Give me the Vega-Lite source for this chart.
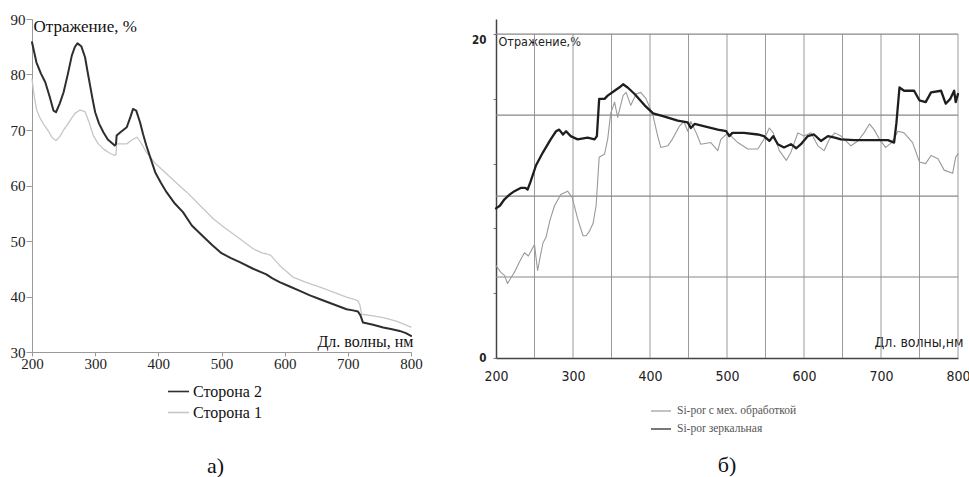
{
  "$schema": "https://vega.github.io/schema/vega-lite/v6.json",
  "background": "white",
  "padding": {"left": 10, "top": 12, "right": 0, "bottom": 0},
  "spacing": 48,
  "resolve": {"scale": {"color": "independent"}, "legend": {"color": "independent"}},
  "config": {"view": {"stroke": null}, "axis": {"grid": false}},
  "datasets": {
    "left": [
      {"w":200,"r":79.2,"s":"Сторона 1"},{"w":203,"r":76.5,"s":"Сторона 1"},{"w":207,"r":73.8,"s":"Сторона 1"},{"w":212,"r":72.3,"s":"Сторона 1"},{"w":218,"r":71.1,"s":"Сторона 1"},{"w":226,"r":69.8,"s":"Сторона 1"},{"w":232,"r":68.6,"s":"Сторона 1"},{"w":238,"r":68.1,"s":"Сторона 1"},{"w":244,"r":68.8,"s":"Сторона 1"},{"w":250,"r":70.0,"s":"Сторона 1"},{"w":255,"r":70.8,"s":"Сторона 1"},{"w":262,"r":72.0,"s":"Сторона 1"},{"w":268,"r":73.0,"s":"Сторона 1"},{"w":276,"r":73.6,"s":"Сторона 1"},{"w":284,"r":73.3,"s":"Сторона 1"},{"w":290,"r":71.5,"s":"Сторона 1"},{"w":297,"r":69.0,"s":"Сторона 1"},{"w":305,"r":67.5,"s":"Сторона 1"},{"w":313,"r":66.6,"s":"Сторона 1"},{"w":322,"r":65.9,"s":"Сторона 1"},{"w":331,"r":65.4,"s":"Сторона 1"},{"w":333,"r":65.6,"s":"Сторона 1"},{"w":334,"r":67.5,"s":"Сторона 1"},{"w":342,"r":67.5,"s":"Сторона 1"},{"w":350,"r":67.5,"s":"Сторона 1"},{"w":358,"r":68.2,"s":"Сторона 1"},{"w":366,"r":68.7,"s":"Сторона 1"},{"w":372,"r":67.8,"s":"Сторона 1"},{"w":381,"r":66.0,"s":"Сторона 1"},{"w":395,"r":64.0,"s":"Сторона 1"},{"w":413,"r":62.1,"s":"Сторона 1"},{"w":430,"r":60.3,"s":"Сторона 1"},{"w":445,"r":58.8,"s":"Сторона 1"},{"w":466,"r":56.4,"s":"Сторона 1"},{"w":487,"r":54.0,"s":"Сторона 1"},{"w":505,"r":52.4,"s":"Сторона 1"},{"w":529,"r":50.4,"s":"Сторона 1"},{"w":550,"r":48.6,"s":"Сторона 1"},{"w":565,"r":47.8,"s":"Сторона 1"},{"w":571,"r":47.7,"s":"Сторона 1"},{"w":578,"r":47.4,"s":"Сторона 1"},{"w":592,"r":45.6,"s":"Сторона 1"},{"w":613,"r":43.5,"s":"Сторона 1"},{"w":635,"r":42.5,"s":"Сторона 1"},{"w":656,"r":41.7,"s":"Сторона 1"},{"w":677,"r":40.8,"s":"Сторона 1"},{"w":698,"r":39.9,"s":"Сторона 1"},{"w":710,"r":39.5,"s":"Сторона 1"},{"w":716,"r":39.2,"s":"Сторона 1"},{"w":719,"r":38.5,"s":"Сторона 1"},{"w":722,"r":36.8,"s":"Сторона 1"},{"w":740,"r":36.5,"s":"Сторона 1"},{"w":756,"r":36.2,"s":"Сторона 1"},{"w":778,"r":35.5,"s":"Сторона 1"},{"w":800,"r":34.5,"s":"Сторона 1"},
      {"w":200,"r":85.8,"s":"Сторона 2"},{"w":207,"r":82.2,"s":"Сторона 2"},{"w":214,"r":80.2,"s":"Сторона 2"},{"w":221,"r":78.6,"s":"Сторона 2"},{"w":228,"r":76.0,"s":"Сторона 2"},{"w":234,"r":73.5,"s":"Сторона 2"},{"w":238,"r":73.2,"s":"Сторона 2"},{"w":244,"r":74.8,"s":"Сторона 2"},{"w":250,"r":76.8,"s":"Сторона 2"},{"w":257,"r":80.2,"s":"Сторона 2"},{"w":263,"r":83.4,"s":"Сторона 2"},{"w":268,"r":85.0,"s":"Сторона 2"},{"w":272,"r":85.6,"s":"Сторона 2"},{"w":278,"r":85.1,"s":"Сторона 2"},{"w":284,"r":83.1,"s":"Сторона 2"},{"w":288,"r":80.5,"s":"Сторона 2"},{"w":292,"r":78.0,"s":"Сторона 2"},{"w":296,"r":75.5,"s":"Сторона 2"},{"w":300,"r":73.2,"s":"Сторона 2"},{"w":306,"r":71.2,"s":"Сторона 2"},{"w":313,"r":69.6,"s":"Сторона 2"},{"w":320,"r":68.3,"s":"Сторона 2"},{"w":331,"r":67.2,"s":"Сторона 2"},{"w":333,"r":67.5,"s":"Сторона 2"},{"w":334,"r":69.0,"s":"Сторона 2"},{"w":340,"r":69.6,"s":"Сторона 2"},{"w":350,"r":70.5,"s":"Сторона 2"},{"w":356,"r":72.4,"s":"Сторона 2"},{"w":360,"r":73.8,"s":"Сторона 2"},{"w":365,"r":73.5,"s":"Сторона 2"},{"w":371,"r":71.4,"s":"Сторона 2"},{"w":376,"r":69.2,"s":"Сторона 2"},{"w":381,"r":67.2,"s":"Сторона 2"},{"w":388,"r":64.8,"s":"Сторона 2"},{"w":395,"r":62.4,"s":"Сторона 2"},{"w":404,"r":60.5,"s":"Сторона 2"},{"w":413,"r":58.8,"s":"Сторона 2"},{"w":425,"r":56.9,"s":"Сторона 2"},{"w":439,"r":55.2,"s":"Сторона 2"},{"w":453,"r":52.8,"s":"Сторона 2"},{"w":471,"r":50.8,"s":"Сторона 2"},{"w":486,"r":49.2,"s":"Сторона 2"},{"w":500,"r":47.8,"s":"Сторона 2"},{"w":515,"r":46.9,"s":"Сторона 2"},{"w":529,"r":46.2,"s":"Сторона 2"},{"w":550,"r":45.0,"s":"Сторона 2"},{"w":571,"r":44.0,"s":"Сторона 2"},{"w":580,"r":43.3,"s":"Сторона 2"},{"w":592,"r":42.6,"s":"Сторона 2"},{"w":608,"r":41.8,"s":"Сторона 2"},{"w":624,"r":41.0,"s":"Сторона 2"},{"w":640,"r":40.2,"s":"Сторона 2"},{"w":656,"r":39.5,"s":"Сторона 2"},{"w":677,"r":38.6,"s":"Сторона 2"},{"w":698,"r":37.7,"s":"Сторона 2"},{"w":708,"r":37.5,"s":"Сторона 2"},{"w":716,"r":37.3,"s":"Сторона 2"},{"w":720,"r":36.6,"s":"Сторона 2"},{"w":724,"r":35.3,"s":"Сторона 2"},{"w":740,"r":34.9,"s":"Сторона 2"},{"w":756,"r":34.4,"s":"Сторона 2"},{"w":770,"r":34.1,"s":"Сторона 2"},{"w":782,"r":33.8,"s":"Сторона 2"},{"w":792,"r":33.4,"s":"Сторона 2"},{"w":800,"r":32.9,"s":"Сторона 2"}
    ],
    "right": [
      {"w":200,"r":5.7,"s":"Si-por с мех. обработкой"},{"w":206,"r":5.3,"s":"Si-por с мех. обработкой"},{"w":211,"r":5.1,"s":"Si-por с мех. обработкой"},{"w":215,"r":4.6,"s":"Si-por с мех. обработкой"},{"w":220,"r":5.0,"s":"Si-por с мех. обработкой"},{"w":224,"r":5.3,"s":"Si-por с мех. обработкой"},{"w":230,"r":5.9,"s":"Si-por с мех. обработкой"},{"w":237,"r":6.5,"s":"Si-por с мех. обработкой"},{"w":242,"r":6.3,"s":"Si-por с мех. обработкой"},{"w":250,"r":7.0,"s":"Si-por с мех. обработкой"},{"w":254,"r":5.4,"s":"Si-por с мех. обработкой"},{"w":258,"r":6.4,"s":"Si-por с мех. обработкой"},{"w":261,"r":7.1,"s":"Si-por с мех. обработкой"},{"w":265,"r":7.45,"s":"Si-por с мех. обработкой"},{"w":270,"r":8.5,"s":"Si-por с мех. обработкой"},{"w":276,"r":9.4,"s":"Si-por с мех. обработкой"},{"w":284,"r":10.1,"s":"Si-por с мех. обработкой"},{"w":293,"r":10.3,"s":"Si-por с мех. обработкой"},{"w":299,"r":9.9,"s":"Si-por с мех. обработкой"},{"w":306,"r":8.6,"s":"Si-por с мех. обработкой"},{"w":313,"r":7.55,"s":"Si-por с мех. обработкой"},{"w":317,"r":7.55,"s":"Si-por с мех. обработкой"},{"w":321,"r":7.8,"s":"Si-por с мех. обработкой"},{"w":326,"r":8.3,"s":"Si-por с мех. обработкой"},{"w":330,"r":9.4,"s":"Si-por с мех. обработкой"},{"w":334,"r":12.4,"s":"Si-por с мех. обработкой"},{"w":341,"r":12.6,"s":"Si-por с мех. обработкой"},{"w":345,"r":13.5,"s":"Si-por с мех. обработкой"},{"w":349,"r":15.1,"s":"Si-por с мех. обработкой"},{"w":354,"r":15.8,"s":"Si-por с мех. обработкой"},{"w":358,"r":14.85,"s":"Si-por с мех. обработкой"},{"w":365,"r":16.2,"s":"Si-por с мех. обработкой"},{"w":369,"r":16.4,"s":"Si-por с мех. обработкой"},{"w":375,"r":15.6,"s":"Si-por с мех. обработкой"},{"w":382,"r":16.3,"s":"Si-por с мех. обработкой"},{"w":388,"r":16.4,"s":"Si-por с мех. обработкой"},{"w":395,"r":16.0,"s":"Si-por с мех. обработкой"},{"w":404,"r":14.95,"s":"Si-por с мех. обработкой"},{"w":410,"r":13.7,"s":"Si-por с мех. обработкой"},{"w":414,"r":13.0,"s":"Si-por с мех. обработкой"},{"w":423,"r":13.1,"s":"Si-por с мех. обработкой"},{"w":429,"r":13.5,"s":"Si-por с мех. обработкой"},{"w":438,"r":14.3,"s":"Si-por с мех. обработкой"},{"w":444,"r":14.6,"s":"Si-por с мех. обработкой"},{"w":449,"r":14.0,"s":"Si-por с мех. обработкой"},{"w":453,"r":14.6,"s":"Si-por с мех. обработкой"},{"w":460,"r":13.9,"s":"Si-por с мех. обработкой"},{"w":466,"r":13.2,"s":"Si-por с мех. обработкой"},{"w":479,"r":13.3,"s":"Si-por с мех. обработкой"},{"w":488,"r":12.8,"s":"Si-por с мех. обработкой"},{"w":492,"r":13.5,"s":"Si-por с мех. обработкой"},{"w":501,"r":13.9,"s":"Si-por с мех. обработкой"},{"w":514,"r":13.3,"s":"Si-por с мех. обработкой"},{"w":527,"r":12.9,"s":"Si-por с мех. обработкой"},{"w":540,"r":12.9,"s":"Si-por с мех. обработкой"},{"w":548,"r":13.5,"s":"Si-por с мех. обработкой"},{"w":555,"r":14.2,"s":"Si-por с мех. обработкой"},{"w":560,"r":13.9,"s":"Si-por с мех. обработкой"},{"w":568,"r":12.8,"s":"Si-por с мех. обработкой"},{"w":577,"r":12.2,"s":"Si-por с мех. обработкой"},{"w":583,"r":12.7,"s":"Si-por с мех. обработкой"},{"w":592,"r":13.9,"s":"Si-por с мех. обработкой"},{"w":600,"r":13.7,"s":"Si-por с мех. обработкой"},{"w":609,"r":13.9,"s":"Si-por с мех. обработкой"},{"w":618,"r":13.1,"s":"Si-por с мех. обработкой"},{"w":626,"r":12.8,"s":"Si-por с мех. обработкой"},{"w":633,"r":13.5,"s":"Si-por с мех. обработкой"},{"w":640,"r":13.9,"s":"Si-por с мех. обработкой"},{"w":648,"r":13.7,"s":"Si-por с мех. обработкой"},{"w":661,"r":13.1,"s":"Si-por с мех. обработкой"},{"w":670,"r":13.4,"s":"Si-por с мех. обработкой"},{"w":678,"r":13.9,"s":"Si-por с мех. обработкой"},{"w":685,"r":14.45,"s":"Si-por с мех. обработкой"},{"w":691,"r":14.1,"s":"Si-por с мех. обработкой"},{"w":698,"r":13.5,"s":"Si-por с мех. обработкой"},{"w":706,"r":13.0,"s":"Si-por с мех. обработкой"},{"w":714,"r":13.3,"s":"Si-por с мех. обработкой"},{"w":722,"r":14.0,"s":"Si-por с мех. обработкой"},{"w":730,"r":13.9,"s":"Si-por с мех. обработкой"},{"w":741,"r":13.3,"s":"Si-por с мех. обработкой"},{"w":750,"r":12.1,"s":"Si-por с мех. обработкой"},{"w":758,"r":12.0,"s":"Si-por с мех. обработкой"},{"w":765,"r":12.5,"s":"Si-por с мех. обработкой"},{"w":774,"r":12.3,"s":"Si-por с мех. обработкой"},{"w":782,"r":11.6,"s":"Si-por с мех. обработкой"},{"w":793,"r":11.4,"s":"Si-por с мех. обработкой"},{"w":797,"r":12.4,"s":"Si-por с мех. обработкой"},{"w":800,"r":12.6,"s":"Si-por с мех. обработкой"},
      {"w":200,"r":9.24,"s":"Si-por зеркальная"},{"w":205,"r":9.4,"s":"Si-por зеркальная"},{"w":211,"r":9.8,"s":"Si-por зеркальная"},{"w":218,"r":10.1,"s":"Si-por зеркальная"},{"w":224,"r":10.3,"s":"Si-por зеркальная"},{"w":232,"r":10.5,"s":"Si-por зеркальная"},{"w":238,"r":10.5,"s":"Si-por зеркальная"},{"w":241,"r":10.4,"s":"Si-por зеркальная"},{"w":245,"r":10.9,"s":"Si-por зеркальная"},{"w":252,"r":11.9,"s":"Si-por зеркальная"},{"w":261,"r":12.7,"s":"Si-por зеркальная"},{"w":271,"r":13.5,"s":"Si-por зеркальная"},{"w":278,"r":14.0,"s":"Si-por зеркальная"},{"w":282,"r":14.1,"s":"Si-por зеркальная"},{"w":287,"r":13.8,"s":"Si-por зеркальная"},{"w":291,"r":14.0,"s":"Si-por зеркальная"},{"w":297,"r":13.7,"s":"Si-por зеркальная"},{"w":306,"r":13.5,"s":"Si-por зеркальная"},{"w":319,"r":13.6,"s":"Si-por зеркальная"},{"w":328,"r":13.5,"s":"Si-por зеркальная"},{"w":331,"r":13.7,"s":"Si-por зеркальная"},{"w":334,"r":16.0,"s":"Si-por зеркальная"},{"w":341,"r":16.0,"s":"Si-por зеркальная"},{"w":345,"r":16.2,"s":"Si-por зеркальная"},{"w":354,"r":16.5,"s":"Si-por зеркальная"},{"w":360,"r":16.7,"s":"Si-por зеркальная"},{"w":365,"r":16.9,"s":"Si-por зеркальная"},{"w":371,"r":16.7,"s":"Si-por зеркальная"},{"w":380,"r":16.3,"s":"Si-por зеркальная"},{"w":393,"r":15.6,"s":"Si-por зеркальная"},{"w":404,"r":15.1,"s":"Si-por зеркальная"},{"w":419,"r":14.9,"s":"Si-por зеркальная"},{"w":436,"r":14.65,"s":"Si-por зеркальная"},{"w":449,"r":14.55,"s":"Si-por зеркальная"},{"w":453,"r":14.2,"s":"Si-por зеркальная"},{"w":458,"r":14.45,"s":"Si-por зеркальная"},{"w":471,"r":14.3,"s":"Si-por зеркальная"},{"w":488,"r":14.1,"s":"Si-por зеркальная"},{"w":499,"r":14.0,"s":"Si-por зеркальная"},{"w":503,"r":13.7,"s":"Si-por зеркальная"},{"w":507,"r":13.9,"s":"Si-por зеркальная"},{"w":522,"r":13.9,"s":"Si-por зеркальная"},{"w":540,"r":13.8,"s":"Si-por зеркальная"},{"w":548,"r":13.7,"s":"Si-por зеркальная"},{"w":555,"r":13.4,"s":"Si-por зеркальная"},{"w":560,"r":13.7,"s":"Si-por зеркальная"},{"w":566,"r":13.2,"s":"Si-por зеркальная"},{"w":574,"r":13.0,"s":"Si-por зеркальная"},{"w":583,"r":13.2,"s":"Si-por зеркальная"},{"w":590,"r":12.95,"s":"Si-por зеркальная"},{"w":596,"r":13.2,"s":"Si-por зеркальная"},{"w":605,"r":13.7,"s":"Si-por зеркальная"},{"w":613,"r":13.8,"s":"Si-por зеркальная"},{"w":622,"r":13.4,"s":"Si-por зеркальная"},{"w":631,"r":13.7,"s":"Si-por зеркальная"},{"w":640,"r":13.6,"s":"Si-por зеркальная"},{"w":648,"r":13.5,"s":"Si-por зеркальная"},{"w":665,"r":13.45,"s":"Si-por зеркальная"},{"w":687,"r":13.45,"s":"Si-por зеркальная"},{"w":709,"r":13.45,"s":"Si-por зеркальная"},{"w":717,"r":13.3,"s":"Si-por зеркальная"},{"w":720,"r":14.5,"s":"Si-por зеркальная"},{"w":724,"r":16.7,"s":"Si-por зеркальная"},{"w":730,"r":16.5,"s":"Si-por зеркальная"},{"w":743,"r":16.5,"s":"Si-por зеркальная"},{"w":750,"r":15.9,"s":"Si-por зеркальная"},{"w":758,"r":15.8,"s":"Si-por зеркальная"},{"w":765,"r":16.4,"s":"Si-por зеркальная"},{"w":778,"r":16.5,"s":"Si-por зеркальная"},{"w":784,"r":15.7,"s":"Si-por зеркальная"},{"w":790,"r":16.0,"s":"Si-por зеркальная"},{"w":795,"r":16.5,"s":"Si-por зеркальная"},{"w":797,"r":15.8,"s":"Si-por зеркальная"},{"w":800,"r":16.3,"s":"Si-por зеркальная"}
    ],
    "vgrid": [
      {"g":250},{"g":300},{"g":350},{"g":400},{"g":450},{"g":500},{"g":550},{"g":600},{"g":650},{"g":700},{"g":750},{"g":800}
    ],
    "hgrid": [
      {"h":5},{"h":10},{"h":15},{"h":20}
    ]
  },
  "hconcat": [
    {
      "width": 379,
      "height": 333,
      "data": {"name": "left"},
      "title": {"text": "а)", "orient": "bottom", "anchor": "middle", "offset": 35, "dx": -6, "font": "Liberation Serif", "fontSize": 22, "fontWeight": "normal", "color": "#111"},
      "mark": {"type": "line", "strokeJoin": "round", "strokeCap": "round"},
      "encoding": {
        "x": {
          "field": "w", "type": "quantitative",
          "scale": {"domain": [200, 800], "nice": false, "zero": false},
          "axis": {
            "values": [200, 300, 400, 500, 600, 700, 800],
            "title": "Дл. волны, нм", "titleX": 381, "titleY": -6, "titleAlign": "right", "titleBaseline": "alphabetic",
            "titleFont": "Liberation Serif", "titleFontSize": 16, "titleFontWeight": "normal", "titleColor": "#111",
            "labelFont": "Liberation Serif", "labelFontSize": 15, "labelColor": "#222", "labelPadding": 0,
            "tickSize": 4, "tickColor": "#999", "domainColor": "#999", "labelFlush": false, "labelOverlap": false
          }
        },
        "y": {
          "field": "r", "type": "quantitative",
          "scale": {"domain": [30, 90], "nice": false, "zero": false},
          "axis": {
            "values": [30, 40, 50, 60, 70, 80, 90],
            "title": "Отражение, %", "titleAngle": 0, "titleX": 1, "titleY": 12, "titleAlign": "left", "titleBaseline": "alphabetic",
            "titleFont": "Liberation Serif", "titleFontSize": 17, "titleFontWeight": "normal", "titleColor": "#111",
            "labelFont": "Liberation Serif", "labelFontSize": 15, "labelColor": "#222", "labelPadding": 1,
            "tickSize": 6, "tickColor": "#999", "domainColor": "#999", "labelFlush": false, "labelOverlap": false
          }
        },
        "color": {
          "field": "s", "type": "nominal",
          "scale": {"domain": ["Сторона 2", "Сторона 1"], "range": ["#2e2e2e", "#c6c6c6"]},
          "legend": {
            "orient": "none", "legendX": 135, "legendY": 361, "title": null,
            "symbolType": "stroke", "symbolSize": 441, "symbolStrokeWidth": 1.6,
            "labelFont": "Liberation Serif", "labelFontSize": 16, "labelColor": "#111", "labelOffset": 3, "rowPadding": 1
          }
        },
        "strokeWidth": {"condition": {"test": "datum.s === 'Сторона 2'", "value": 2}, "value": 1.3}
      }
    },
    {
      "width": 462,
      "height": 339,
      "title": {"text": "б)", "orient": "bottom", "anchor": "middle", "offset": 20, "font": "Liberation Serif", "fontSize": 22, "fontWeight": "normal", "color": "#111"},
      "layer": [
        {
          "data": {"name": "vgrid"},
          "mark": {"type": "rule", "color": "#9a9a9a", "strokeWidth": 1},
          "encoding": {
            "x": {"field": "g", "type": "quantitative"},
            "y": {"datum": 0},
            "y2": {"datum": 20}
          }
        },
        {
          "data": {"name": "hgrid"},
          "mark": {"type": "rule", "color": "#888888", "strokeWidth": 1.2},
          "encoding": {
            "y": {"field": "h", "type": "quantitative"},
            "x": {"datum": 200},
            "x2": {"datum": 800}
          }
        },
        {
          "data": {"name": "right"},
          "mark": {"type": "line", "strokeJoin": "round", "strokeCap": "round"},
          "encoding": {
            "x": {
              "field": "w", "type": "quantitative",
              "scale": {"domain": [200, 800], "nice": false, "zero": false},
              "axis": {
                "values": [200, 300, 400, 500, 600, 700, 800],
                "title": "Дл. волны,нм", "titleX": 467, "titleY": -12, "titleAlign": "right", "titleBaseline": "alphabetic",
                "titleFont": "Liberation Sans Narrow, DejaVu Sans Condensed, Liberation Sans, sans-serif", "titleFontSize": 14, "titleFontWeight": "normal", "titleColor": "#222",
                "labelFont": "Liberation Sans Narrow, DejaVu Sans Condensed, Liberation Sans, sans-serif", "labelFontSize": 14, "labelColor": "#222", "labelPadding": 11,
                "ticks": false, "domainColor": "#444", "domainWidth": 1.5, "labelFlush": false, "labelOverlap": false
              }
            },
            "y": {
              "field": "r", "type": "quantitative",
              "scale": {"domain": [0, 20.93], "nice": false, "zero": false},
              "axis": {
                "values": [0,1,2,3,4,5,6,7,8,9,10,11,12,13,14,15,16,17,18,19,20],
                "labelExpr": "datum.value % 10 == 0 ? datum.label : ''",
                "title": "Отражение,%", "titleAngle": 0, "titleX": 2, "titleY": 26, "titleAlign": "left", "titleBaseline": "alphabetic",
                "titleFont": "Liberation Sans Narrow, DejaVu Sans Condensed, Liberation Sans, sans-serif", "titleFontSize": 12.5, "titleFontWeight": "normal", "titleColor": "#222",
                "labelFont": "Liberation Sans Narrow, DejaVu Sans Condensed, Liberation Sans, sans-serif", "labelFontSize": 11.5, "labelFontWeight": "bold", "labelColor": "#222", "labelPadding": 7,
                "labelBaseline": {"condition": {"test": "datum.value == 20", "value": "top"}, "value": "middle"},
                "tickSize": 3, "tickColor": "#777", "domainColor": "#444", "domainWidth": 1.5,
                "labelFlush": false, "labelOverlap": false
              }
            },
            "color": {
              "field": "s", "type": "nominal",
              "scale": {"domain": ["Si-por с мех. обработкой", "Si-por зеркальная"], "range": ["#9a9a9a", "#1e1e1e"]},
              "legend": {
                "orient": "none", "legendX": 154, "legendY": 381, "title": null,
                "symbolType": "stroke", "symbolSize": 400, "symbolStrokeWidth": 1.2,
                "labelFont": "Liberation Serif", "labelFontSize": 11.5, "labelColor": "#555", "labelOffset": 5, "rowPadding": 1, "labelLimit": 400
              }
            },
            "strokeWidth": {"condition": {"test": "datum.s === 'Si-por зеркальная'", "value": 2.3}, "value": 1.1}
          }
        }
      ]
    }
  ]
}
